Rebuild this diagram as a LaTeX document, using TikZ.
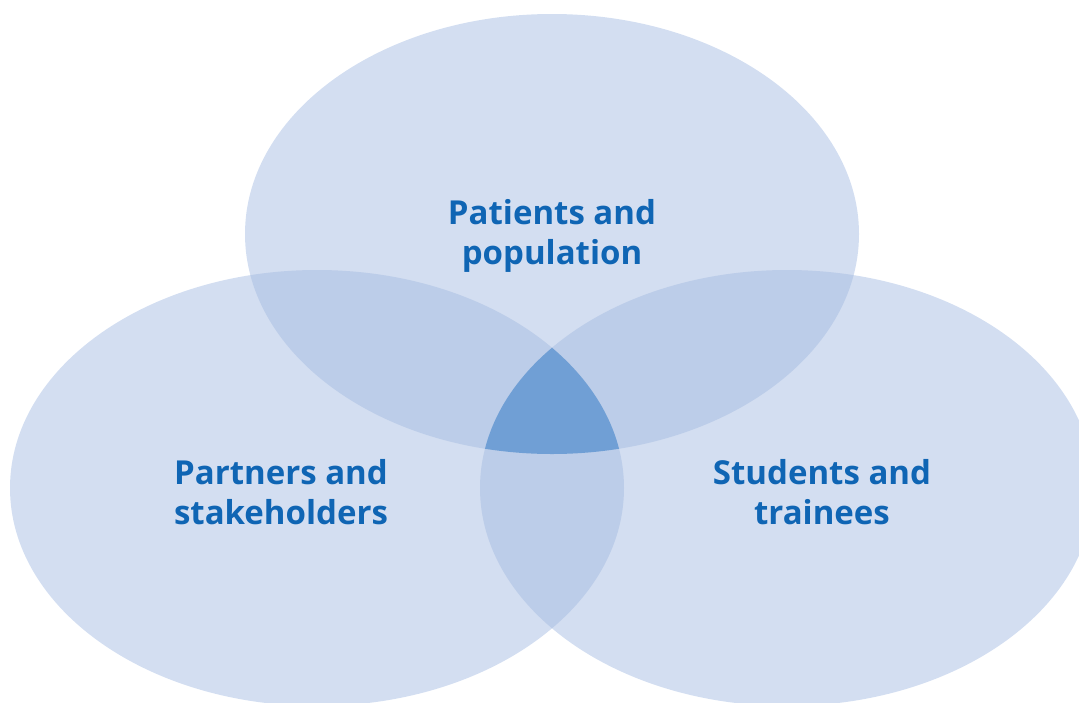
\documentclass[tikz,border=0pt]{standalone}
\usepackage{fontspec}
\setmainfont{Open Sans}
\definecolor{vsingle}{HTML}{D3DEF1}
\definecolor{vdouble}{HTML}{BCCDE9}
\definecolor{vtriple}{HTML}{709FD5}
\definecolor{vtxt}{HTML}{0F65B4}
\begin{document}
\begin{tikzpicture}[x=1pt,y=-1pt,
  lbl/.style={align=center,text=vtxt,font=\fontsize{33}{40}\selectfont\bfseries,inner sep=0pt}]
\useasboundingbox (0,0) rectangle (1079,702);
\clip (0,0) rectangle (1079,702);
\def\eT{(552,234) ellipse [x radius=307, y radius=220]}
\def\eL{(317,488) ellipse [x radius=307, y radius=218]}
\def\eR{(787,488) ellipse [x radius=307, y radius=218]}
\fill[vsingle] \eT;
\fill[vsingle] \eL;
\fill[vsingle] \eR;
\begin{scope}\clip \eT; \fill[vdouble] \eL; \fill[vdouble] \eR; \end{scope}
\begin{scope}\clip \eL; \fill[vdouble] \eR; \end{scope}
\begin{scope}\clip \eT; \clip \eL; \fill[vtriple] \eR; \end{scope}
\node[lbl] (top) at (552,236) {Patients and\\population};
\node[lbl] (left) at (281,492) {Partners and\\stakeholders};
\node[lbl] (right) at (822,492) {Students and\\trainees};
\end{tikzpicture}
\end{document}
